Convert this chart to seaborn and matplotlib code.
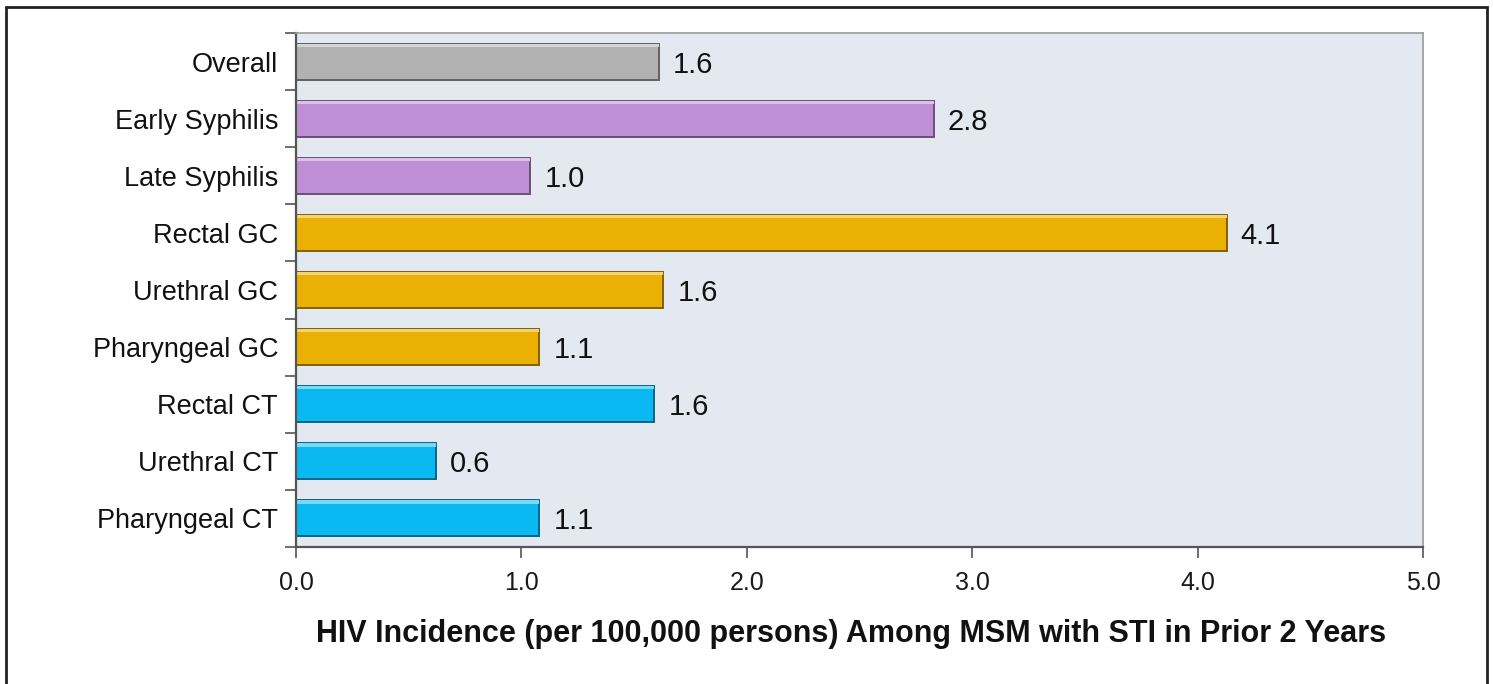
import matplotlib
matplotlib.use("Agg")
import matplotlib.pyplot as plt
import matplotlib.colors as mcolors
from matplotlib.patches import Rectangle
import seaborn as sns
import pandas as pd

# chart data
categories = ["Overall", "Early Syphilis", "Late Syphilis", "Rectal GC", "Urethral GC",
              "Pharyngeal GC", "Rectal CT", "Urethral CT", "Pharyngeal CT"]
incidence = [1.61, 2.83, 1.04, 4.13, 1.63, 1.08, 1.59, 0.62, 1.08]
value_labels = ["1.6", "2.8", "1.0", "4.1", "1.6", "1.1", "1.6", "0.6", "1.1"]
bar_colors = ["#B1B1B1", "#BF8FD6", "#BF8FD6", "#EAB104", "#EAB104", "#EAB104",
              "#0AB9F2", "#0AB9F2", "#0AB9F2"]
x_ticks = [0, 1, 2, 3, 4, 5]
x_label = "HIV Incidence (per 100,000 persons) Among MSM with STI in Prior 2 Years"

df = pd.DataFrame({"category": categories, "incidence": incidence})

sns.set_style("white")
plt.rcParams["font.family"] = ["Liberation Sans", "DejaVu Sans"]

fig = plt.figure(figsize=(14.93, 6.84), dpi=100)
ax = fig.add_axes([0.1983, 0.2003, 0.7548, 0.7515])

sns.barplot(data=df, x="incidence", y="category", hue="category", palette=bar_colors,
            orient="h", width=0.63, legend=False, ax=ax, saturation=1)

# bevelled look: darker edge, light strip on top
for patch, col in zip(ax.patches, bar_colors):
    rgb = mcolors.to_rgb(col)
    dark = tuple(c * 0.55 for c in rgb)
    light = tuple(c + (1 - c) * 0.45 for c in rgb)
    patch.set_edgecolor(dark)
    patch.set_linewidth(1.4)
    x, y = patch.get_x(), patch.get_y()
    w, h = patch.get_width(), patch.get_height()
    ax.add_patch(Rectangle((x, y), w, h * 0.09, facecolor=light, edgecolor="none",
                           zorder=patch.get_zorder() + 0.1))

for container, lab in zip(ax.containers, value_labels):
    texts = ax.bar_label(container, labels=[lab], padding=10, fontsize=21, color="#111111")
    for t in texts:
        t.set_va("center_baseline")

ax.set_facecolor("#E4E8F0")
ax.set_xlim(0, 5)
ax.set_ylim(len(categories) - 0.5, -0.5)
ax.set_xticks(x_ticks)
ax.set_xticklabels([f"{t:.1f}" for t in x_ticks], fontsize=18, color="#1a1a1a")
ax.tick_params(axis="x", bottom=True, direction="out", length=8, width=1.2, color="#555555", pad=9)
ax.tick_params(axis="y", which="major", left=False, length=0, pad=13, labelsize=19.5, labelcolor="#111111")
ax.set_yticks([i - 0.5 for i in range(len(categories) + 1)], minor=True)
ax.tick_params(axis="y", which="minor", left=True, direction="out", length=8, width=1.2, color="#555555")
ax.set_ylabel("")
ax.set_xlabel(x_label, fontsize=22, fontweight="bold", color="#111111")
ax.xaxis.set_label_coords(0.4925, -0.14)

for side in ["left", "bottom"]:
    ax.spines[side].set_color("#555555")
    ax.spines[side].set_linewidth(1.6)
for side in ["top", "right"]:
    ax.spines[side].set_color("#9A9A9A")
    ax.spines[side].set_linewidth(1.2)
    ax.spines[side].set_visible(True)

# outer slide frame
fig.add_artist(Rectangle((0.004, -0.01), 0.992, 0.9998, transform=fig.transFigure,
                         fill=False, edgecolor="#222222", linewidth=2))

fig.savefig("out.png", dpi=100, facecolor="white")
